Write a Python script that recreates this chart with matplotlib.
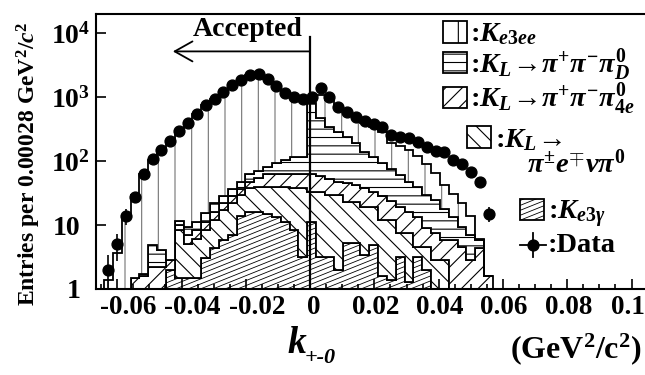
import numpy as np
import matplotlib
matplotlib.use("Agg")
import matplotlib.pyplot as plt
import matplotlib.transforms as mtransforms
from matplotlib.patches import Rectangle, PathPatch
from matplotlib.path import Path
from matplotlib.collections import LineCollection
from matplotlib.ticker import MultipleLocator, FixedLocator, LogLocator, NullFormatter

# binning (k+-0 in GeV^2/c^2)
first_edge = -0.0641
bin_width = 0.00275
n_bins = 44

# data points (entries per bin)
data_counts = [2.0, 5.0, 13.8, 27, 62, 107, 148, 205, 300, 398, 537, 750, 933,
               1210, 1540, 1850, 2200, 2290, 1910, 1490, 1170, 1010, 930, 990,
               1380, 995, 707, 590, 495, 428, 378, 345, 255, 240, 226, 200, 167,
               145, 140, 104, 89, 68, 48, 15]

# MC components, stacked from bottom to top
ke3g = [0, 0, 0, 0, 0, 0, 0, 2.0, 1.5, 1.5, 1.5, 3.0, 4.4, 5.8, 7, 14, 16, 16,
        15, 13.5, 11, 8.4, 3.2, 11.3, 3.2, 3.2, 2.0, 5.2, 5.2, 3.4, 4.9, 1.6,
        1.4, 3.2, 1.3, 3.2, 2.0, 0, 0, 0, 0, 0, 0, 0]
pienu = [0, 0, 0, 0, 0, 0, 0, 0, 7.0, 3.5, 4.5, 5.3, 7.6, 11.2, 15, 15, 22, 24,
         25, 26.5, 29, 29.6, 34.8, 21.7, 29.8, 25.8, 27, 17.8, 17.8, 15.6, 14.1,
         10.4, 10.6, 4.3, 6.2, 1.4, 2.6, 2.8, 2.8, 0, 0, 0, 0, 0]
pi3_4e = [0, 0, 0, 1.5, 1.6, 2.2, 2.2, 0.8, 1.5, 2.0, 2.5, 3.0, 4, 5, 6, 8, 10,
          15, 22, 22, 23, 25, 24, 29, 25, 23, 19, 22, 19, 19, 14, 16, 12, 11.5,
          8.5, 8.9, 4.3, 4.7, 3.0, 5.8, 4.6, 2.8, 4.4, 1.6]
pi3_d = [0, 0, 0, 0, 0.1, 2.7, 1.9, 0, 1.7, 2.2, 2.5, 4.1, 6, 6, 8, 11, 16, 15,
         19, 33, 42, 52, 55, 738, 412, 293, 242, 195, 148, 102, 84, 64, 51, 41,
         32, 26.5, 21.1, 17.5, 12.2, 7.7, 4.8, 4.2, 1.4, 0]
ke3ee = [1.4, 3.7, 14, 28.5, 61.3, 100, 146, 202, 288, 391, 529, 735, 908,
         1172, 1494, 1802, 2136, 2210, 1819, 1385, 1055, 885, 803, 200, 630,
         555, 410, 320, 280, 260, 223, 198, 115, 110, 102, 80, 60, 40, 24,
         17.5, 12.6, 7, 0.2, 0]

xticks = [-0.06, -0.04, -0.02, 0, 0.02, 0.04, 0.06, 0.08, 0.1]
xtick_labels = ["-0.06", "-0.04", "-0.02", "0", "0.02", "0.04", "0.06", "0.08", "0.1"]
yticks = [1, 10, 100, 1000, 10000]
ytick_labels = ["1", "10", "$10^{2}$", "$10^{3}$", "$10^{4}$"]

plt.rcParams.update({
    "font.family": "Liberation Serif",
    "font.weight": "bold",
    "mathtext.fontset": "custom",
    "mathtext.rm": "Liberation Serif:bold",
    "mathtext.it": "Liberation Serif:italic:bold",
    "mathtext.bf": "Liberation Serif:bold",
    "hatch.linewidth": 0.8,
})

edges = first_edge + bin_width * np.arange(n_bins + 1)
centers = 0.5 * (edges[:-1] + edges[1:])

fig = plt.figure(figsize=(6.45, 3.75), dpi=100)
ax = fig.add_axes([96 / 645, 1 - 289 / 375, 549 / 645, 275 / 375])
ax.set_yscale("log")
ax.set_xlim(-0.0666, 0.1042)
ax.set_ylim(1, 2e4)


def shallow_hatch(clip, zorder, step=0.018, slope=0.8):
    # fine, low-angle hatch lines (K_e3gamma), clipped to a patch
    offs = np.arange(-slope, 1.0, step)
    segs = [[(0, o), (1, o + slope)] for o in offs]
    lc = LineCollection(segs, colors="black", linewidths=0.6,
                        transform=ax.transAxes, zorder=zorder)
    ax.add_collection(lc, autolim=False)
    lc.set_clip_path(clip)


def step_outline(lo, hi):
    # closed step polygon between two stacked levels
    x = np.repeat(edges, 2)[1:-1]
    yt = np.repeat(hi, 2)
    yb = np.repeat(lo, 2)
    verts = np.column_stack([np.concatenate([x, x[::-1]]),
                             np.concatenate([yt, yb[::-1]])])
    return Path(verts, closed=False)


floor = 0.5
bottom = np.zeros(n_bins)
layers = [(ke3g, None), (pienu, "\\\\"), (pi3_4e, "//"), (pi3_d, "--")]
for vals, hatch in layers:
    top = bottom + np.array(vals)
    lo, hi = np.maximum(bottom, floor), np.maximum(top, floor)
    ax.stairs(hi, edges, baseline=lo, fill=True, facecolor="white",
              edgecolor="black", lw=1.3, hatch=hatch, zorder=1)
    if hatch is None:
        clip = PathPatch(step_outline(lo, hi), transform=ax.transData)
        shallow_hatch(clip, zorder=1.1)
    bottom = top

top = bottom + np.array(ke3ee)
lo, hi = np.maximum(bottom, floor), np.maximum(top, floor)
ax.stairs(hi, edges, baseline=lo, fill=True, facecolor="white",
          edgecolor="0.45", lw=0, hatch="|", zorder=1.2)
ax.stairs(hi, edges, baseline=lo, fill=False, edgecolor="black", lw=1.3,
          zorder=1.3)

data = np.array(data_counts)
ax.errorbar(centers, data, yerr=np.sqrt(data), xerr=bin_width / 2, fmt="o",
            color="black", ms=7.8, elinewidth=1.2, capsize=0, zorder=5)

# cut line and "Accepted" arrow
ax.axvline(0, ymax=0.916, color="black", lw=1.6, zorder=4)
ax.annotate("", xy=(0.14, 0.864), xytext=(0.388, 0.864), xycoords="axes fraction",
            arrowprops=dict(arrowstyle="->,head_length=0.8,head_width=0.45",
                            lw=1.3, color="black", shrinkA=0, shrinkB=0,
                            mutation_scale=16))
ax.text(0.276, 0.942, "Accepted", transform=ax.transAxes, ha="center",
        va="center", fontsize=20)

# legend
boxes = [(0.632, 0.895, "|", ":$K_{e3ee}$", 0.681, 0.9),
         (0.632, 0.785, "--", r":$K_{L}\!\rightarrow\!\pi^{+}\pi^{-}\pi^{0}_{D}$", 0.681, 0.785),
         (0.632, 0.658, "//", r":$K_{L}\!\rightarrow\!\pi^{+}\pi^{-}\pi^{0}_{4e}$", 0.681, 0.662),
         (0.676, 0.513, "\\\\", r":$K_{L}\!\rightarrow$", 0.727, 0.516),
         (0.772, 0.251, None, r":$K_{e3\gamma}$", 0.823, 0.255)]
for bx, by, hatch, label, tx, ty in boxes:
    r = Rectangle((bx, by), 0.044, 0.078, transform=ax.transAxes,
                  facecolor="white", edgecolor="black", lw=1.3, hatch=hatch,
                  zorder=6)
    ax.add_patch(r)
    if hatch is None:
        shallow_hatch(r, zorder=6.5)
    ax.text(tx, ty, label, transform=ax.transAxes, fontsize=20.5, va="baseline",
            zorder=6)
ax.text(0.785, 0.425, r"$\pi^{\pm}e^{\mp}\nu\pi^{0}$", transform=ax.transAxes,
        fontsize=20.5, va="baseline")
ax.plot([0.796], [0.16], "o", color="black", ms=7.8, transform=ax.transAxes)
ax.plot([0.772, 0.82], [0.16, 0.16], color="black", lw=1.3, transform=ax.transAxes)
ax.plot([0.796, 0.796], [0.115, 0.205], color="black", lw=1.3, transform=ax.transAxes)
ax.text(0.823, 0.136, ":Data", transform=ax.transAxes, fontsize=20.5, va="baseline")

# axes styling
for side in ["left", "bottom", "top"]:
    ax.spines[side].set_linewidth(1.5)
ax.spines["right"].set_visible(False)
ax.set_xticks(xticks, xtick_labels)
ax.xaxis.set_minor_locator(MultipleLocator(0.005))
ax.yaxis.set_major_locator(FixedLocator(yticks))
ax.set_yticklabels(ytick_labels)
ax.yaxis.set_minor_locator(LogLocator(base=10, subs=np.arange(2, 10)))
ax.yaxis.set_minor_formatter(NullFormatter())
ax.tick_params(which="both", direction="in", top=False, right=False, width=1.2)
ax.tick_params(which="major", length=7)
ax.tick_params(which="minor", length=3.5)
ax.tick_params(axis="x", labelsize=19.5, pad=4)
ax.tick_params(axis="y", labelsize=20, pad=4)

shifts = {"0": 4, "0.1": -4}
for lab in ax.get_xticklabels():
    t = lab.get_text()
    dx = 11 if t.startswith("-") else shifts.get(t, 1)
    lab.set_transform(lab.get_transform() +
                      mtransforms.ScaledTranslation(dx / 100, 0, fig.dpi_scale_trans))
for lab in ax.get_yticklabels():
    if lab.get_text() in ("1", "10"):
        lab.set_transform(lab.get_transform() +
                          mtransforms.ScaledTranslation(-10 / 100, 0, fig.dpi_scale_trans))

fig.text(29 / 645, 1 - 164 / 375, "Entries per 0.00028 GeV$^{2}$/$c^{2}$",
         rotation=90, ha="center", va="center", fontsize=17)
fig.text(287 / 645, 1 - 353 / 375, "k", fontsize=27, style="italic", va="baseline")
fig.text(305 / 645, 1 - 363 / 375, "+-0", fontsize=16, style="italic", va="baseline")
fig.text(642 / 645, 1 - 358 / 375, "(GeV$^{2}$/c$^{2}$)", fontsize=23, ha="right",
         va="baseline")

fig.savefig("out.png", dpi=100)
